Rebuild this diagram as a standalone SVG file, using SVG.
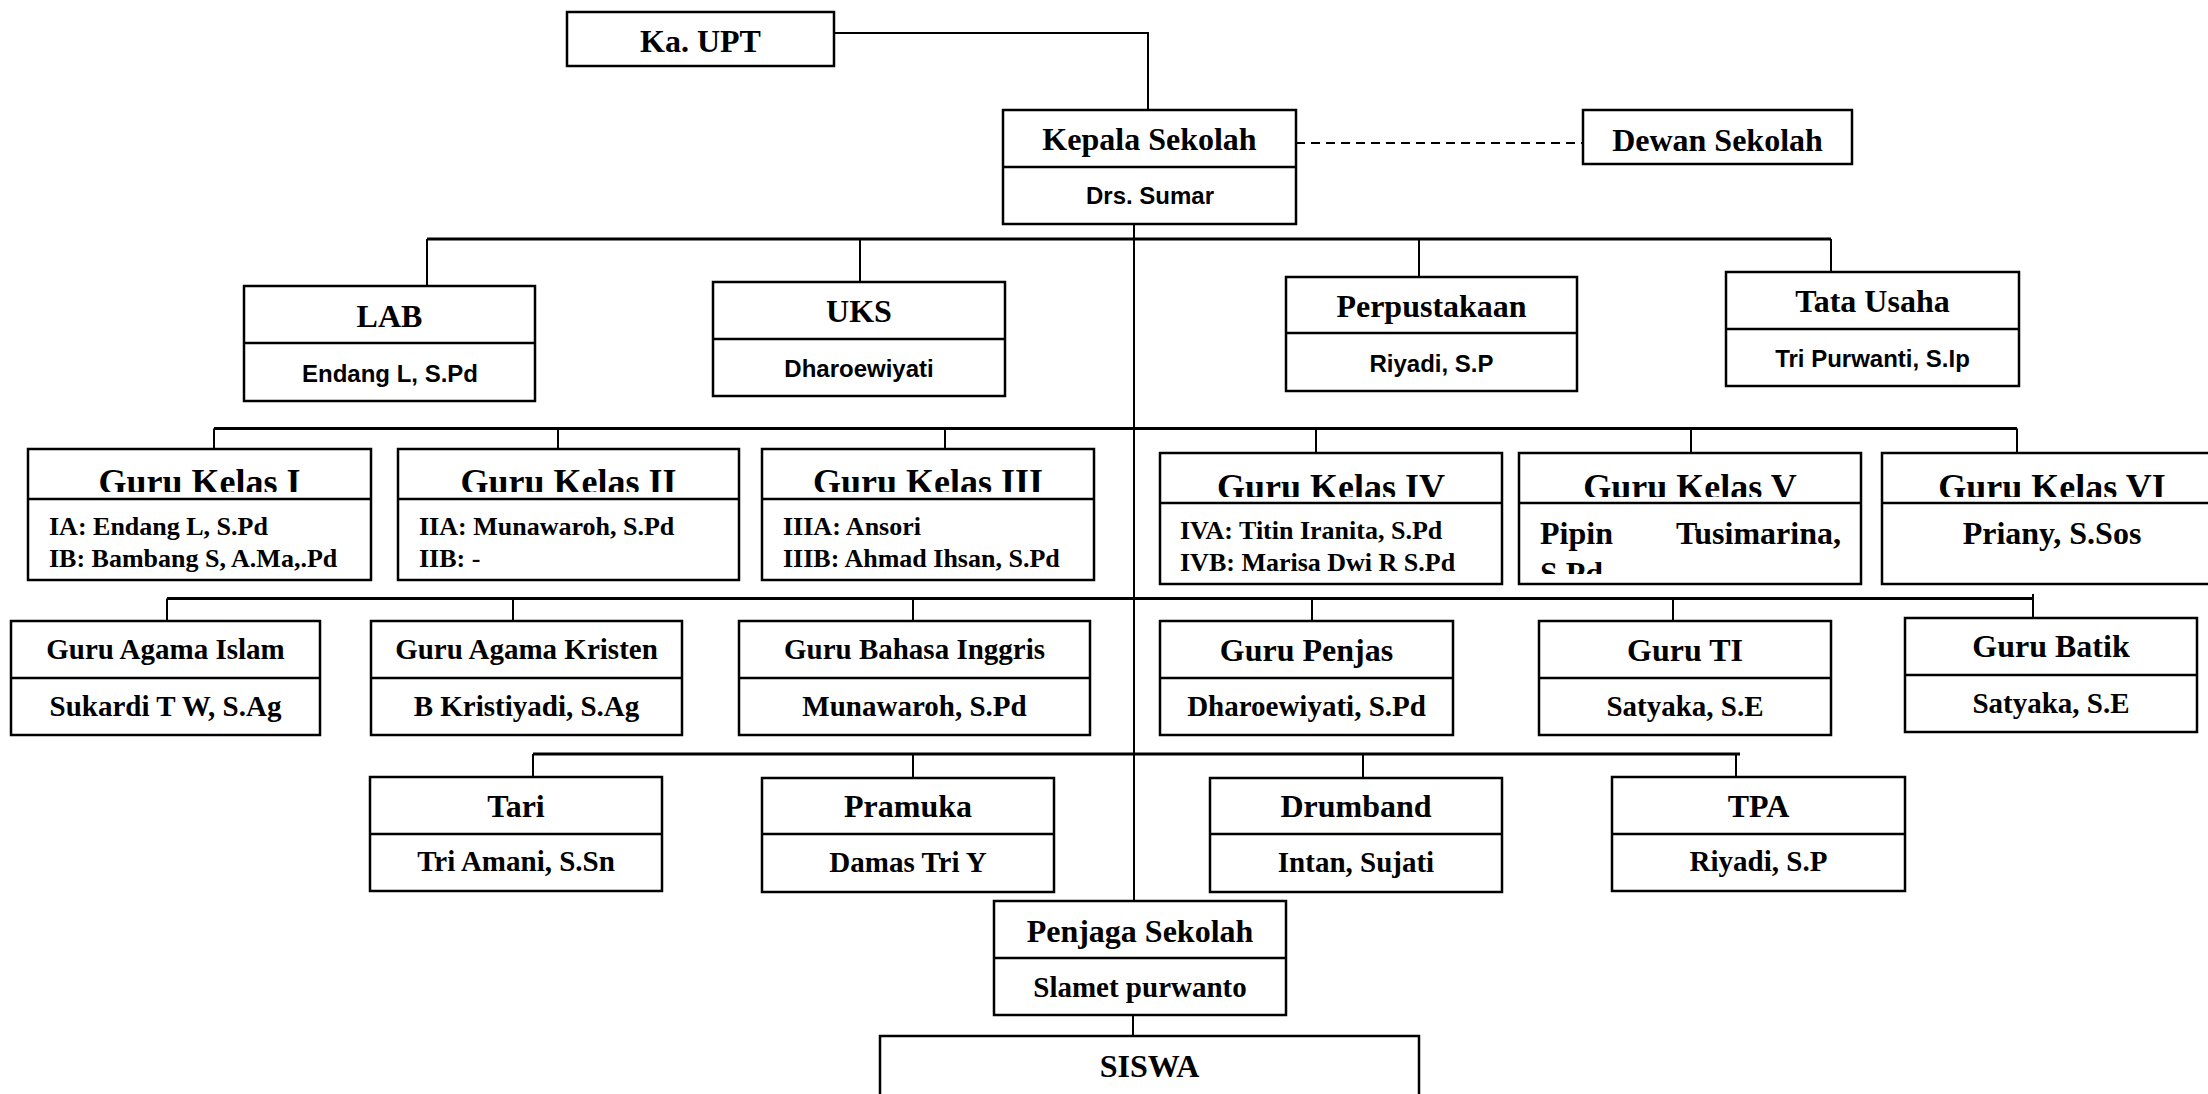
<svg xmlns="http://www.w3.org/2000/svg" width="2208" height="1094" viewBox="0 0 2208 1094">
<style>
.box{fill:#fff;stroke:#000;stroke-width:2.5}
.dv{stroke:#000;stroke-width:2.5}
.t{font-family:"Liberation Serif","Times New Roman",serif;font-weight:bold;text-anchor:middle;font-size:32px;fill:#000}
.t29{font-size:29px}
.t36{font-size:36px}
.l{font-family:"Liberation Serif","Times New Roman",serif;font-weight:bold;font-size:26px;fill:#000}
.s{font-family:"Liberation Sans",Arial,sans-serif;font-weight:bold;text-anchor:middle;font-size:24px;fill:#000}
.ln{stroke:#000;stroke-width:2;fill:none}
.hl{stroke:#000;stroke-width:3;fill:none}
.dash{stroke:#000;stroke-width:2;stroke-dasharray:9 6;fill:none}
</style>
<defs>
<clipPath id="ck1"><rect x="0" y="440" width="1100" height="52"/></clipPath>
<clipPath id="ck4"><rect x="1150" y="440" width="1070" height="57"/></clipPath>
<clipPath id="ck5"><rect x="1519" y="550" width="342" height="24"/></clipPath>
</defs>
<rect width="2208" height="1094" fill="#fff"/>
<g id="connectors">
<path class="ln" d="M834,33 H1148 V110"/>
<path class="dash" d="M1296,143 H1583"/>
<path class="ln" d="M1134,224 V901"/>
<path class="ln" d="M1133,1015 V1036"/>
<path class="hl" d="M427,239 H1831"/>
<path class="ln" d="M427,239 V286 M860,239 V282 M1419,239 V277 M1831,239 V272"/>
<path class="hl" d="M214,428.5 H2017"/>
<path class="ln" d="M214,428.5 V449 M558,428.5 V449 M945,428.5 V449 M1316,428.5 V453 M1691,428.5 V453 M2017,428.5 V453"/>
<path class="hl" d="M167,598.5 H2033"/>
<path class="ln" d="M167,598.5 V621 M513,598.5 V621 M913,598.5 V621 M1312,598.5 V621 M1673,598.5 V621 M2033,594 V618"/>
<path class="hl" d="M533,754 H1740"/>
<path class="ln" d="M533,754 V777 M913,754 V778 M1363,754 V778 M1736,754 V777"/>
</g>
<g id="kaupt"><rect class="box" x="567" y="12" width="267" height="54"/><text class="t" x="700.5" y="52">Ka. UPT</text></g>
<g id="kepala"><rect class="box" x="1003" y="110" width="293" height="114"/><line class="dv" x1="1003" y1="167" x2="1296" y2="167"/><text class="t" x="1149.5" y="150">Kepala Sekolah</text><text class="s" x="1150" y="204">Drs. Sumar</text></g>
<g id="dewan"><rect class="box" x="1583" y="110" width="269" height="54"/><text class="t" x="1717.5" y="151">Dewan Sekolah</text></g>
<g id="lab"><rect class="box" x="244" y="286" width="291" height="115"/><line class="dv" x1="244" y1="343" x2="535" y2="343"/><text class="t" x="389.5" y="327">LAB</text><text class="s" x="390" y="382">Endang L, S.Pd</text></g>
<g id="uks"><rect class="box" x="713" y="282" width="292" height="114"/><line class="dv" x1="713" y1="339" x2="1005" y2="339"/><text class="t" x="859" y="322">UKS</text><text class="s" x="859" y="377">Dharoewiyati</text></g>
<g id="perpustakaan"><rect class="box" x="1286" y="277" width="291" height="114"/><line class="dv" x1="1286" y1="333" x2="1577" y2="333"/><text class="t" x="1431.5" y="317">Perpustakaan</text><text class="s" x="1431.5" y="372">Riyadi, S.P</text></g>
<g id="tatausaha"><rect class="box" x="1726" y="272" width="293" height="114"/><line class="dv" x1="1726" y1="329" x2="2019" y2="329"/><text class="t" x="1872.5" y="312">Tata Usaha</text><text class="s" x="1872.5" y="366.5">Tri Purwanti, S.Ip</text></g>
<g id="kelas1"><rect class="box" x="28" y="449" width="343" height="131"/><line class="dv" x1="28" y1="499" x2="371" y2="499"/><text class="t t36" x="199.5" y="494" clip-path="url(#ck1)">Guru Kelas I</text><text class="l" x="49" y="535">IA: Endang L, S.Pd</text><text class="l" x="49" y="567">IB: Bambang S, A.Ma,.Pd</text></g>
<g id="kelas2"><rect class="box" x="398" y="449" width="341" height="131"/><line class="dv" x1="398" y1="499" x2="739" y2="499"/><text class="t t36" x="568.5" y="494" clip-path="url(#ck1)">Guru Kelas II</text><text class="l" x="419" y="535">IIA: Munawaroh, S.Pd</text><text class="l" x="419" y="567">IIB: -</text></g>
<g id="kelas3"><rect class="box" x="762" y="449" width="332" height="131"/><line class="dv" x1="762" y1="499" x2="1094" y2="499"/><text class="t t36" x="928" y="494" clip-path="url(#ck1)">Guru Kelas III</text><text class="l" x="783" y="535">IIIA: Ansori</text><text class="l" x="783" y="567">IIIB: Ahmad Ihsan, S.Pd</text></g>
<g id="kelas4"><rect class="box" x="1160" y="453" width="342" height="131"/><line class="dv" x1="1160" y1="503" x2="1502" y2="503"/><text class="t t36" x="1331" y="499" clip-path="url(#ck4)">Guru Kelas IV</text><text class="l" x="1180" y="539">IVA: Titin Iranita, S.Pd</text><text class="l" x="1180" y="571">IVB: Marisa Dwi R S.Pd</text></g>
<g id="kelas5"><rect class="box" x="1519" y="453" width="342" height="131"/><line class="dv" x1="1519" y1="503" x2="1861" y2="503"/><text class="t t36" x="1690" y="499" clip-path="url(#ck4)">Guru Kelas V</text><text class="t" x="1540" y="544" style="text-anchor:start">Pipin</text><text class="t" x="1841" y="544" style="text-anchor:end">Tusimarina,</text><text class="t" x="1540" y="584" style="text-anchor:start" clip-path="url(#ck5)">S.Pd</text></g>
<g id="kelas6"><rect class="box" x="1882" y="453" width="340" height="131"/><line class="dv" x1="1882" y1="503" x2="2222" y2="503"/><text class="t t36" x="2052" y="499" clip-path="url(#ck4)">Guru Kelas VI</text><text class="t" x="2052" y="544">Priany, S.Sos</text></g>
<g id="agamaislam"><rect class="box" x="11" y="621" width="309" height="114"/><line class="dv" x1="11" y1="678" x2="320" y2="678"/><text class="t t29" x="165.5" y="659">Guru Agama Islam</text><text class="t t29" x="165.5" y="716">Sukardi T W, S.Ag</text></g>
<g id="agamakristen"><rect class="box" x="371" y="621" width="311" height="114"/><line class="dv" x1="371" y1="678" x2="682" y2="678"/><text class="t t29" x="526.5" y="659">Guru Agama Kristen</text><text class="t t29" x="526.5" y="716">B Kristiyadi, S.Ag</text></g>
<g id="bahasainggris"><rect class="box" x="739" y="621" width="351" height="114"/><line class="dv" x1="739" y1="678" x2="1090" y2="678"/><text class="t t29" x="914.5" y="659">Guru Bahasa Inggris</text><text class="t t29" x="914.5" y="716">Munawaroh, S.Pd</text></g>
<g id="penjas"><rect class="box" x="1160" y="621" width="293" height="114"/><line class="dv" x1="1160" y1="678" x2="1453" y2="678"/><text class="t" x="1306.5" y="661">Guru Penjas</text><text class="t t29" x="1306.5" y="716">Dharoewiyati, S.Pd</text></g>
<g id="ti"><rect class="box" x="1539" y="621" width="292" height="114"/><line class="dv" x1="1539" y1="678" x2="1831" y2="678"/><text class="t" x="1685" y="661">Guru TI</text><text class="t t29" x="1685" y="716">Satyaka, S.E</text></g>
<g id="batik"><rect class="box" x="1905" y="618" width="292" height="114"/><line class="dv" x1="1905" y1="675" x2="2197" y2="675"/><text class="t" x="2051" y="657">Guru Batik</text><text class="t t29" x="2051" y="713">Satyaka, S.E</text></g>
<g id="tari"><rect class="box" x="370" y="777" width="292" height="114"/><line class="dv" x1="370" y1="834" x2="662" y2="834"/><text class="t" x="516" y="817">Tari</text><text class="t t29" x="516" y="871">Tri Amani, S.Sn</text></g>
<g id="pramuka"><rect class="box" x="762" y="778" width="292" height="114"/><line class="dv" x1="762" y1="834" x2="1054" y2="834"/><text class="t" x="908" y="817">Pramuka</text><text class="t t29" x="908" y="872">Damas Tri Y</text></g>
<g id="drumband"><rect class="box" x="1210" y="778" width="292" height="114"/><line class="dv" x1="1210" y1="834" x2="1502" y2="834"/><text class="t" x="1356" y="817">Drumband</text><text class="t t29" x="1356" y="872">Intan, Sujati</text></g>
<g id="tpa"><rect class="box" x="1612" y="777" width="293" height="114"/><line class="dv" x1="1612" y1="834" x2="1905" y2="834"/><text class="t" x="1758.5" y="817">TPA</text><text class="t t29" x="1758.5" y="871">Riyadi, S.P</text></g>
<g id="penjaga"><rect class="box" x="994" y="901" width="292" height="114"/><line class="dv" x1="994" y1="958" x2="1286" y2="958"/><text class="t" x="1140" y="942">Penjaga Sekolah</text><text class="t t29" x="1140" y="997">Slamet purwanto</text></g>
<g id="siswa"><rect class="box" x="880" y="1036" width="539" height="70"/><text class="t" x="1149.5" y="1077">SISWA</text></g>
</svg>
